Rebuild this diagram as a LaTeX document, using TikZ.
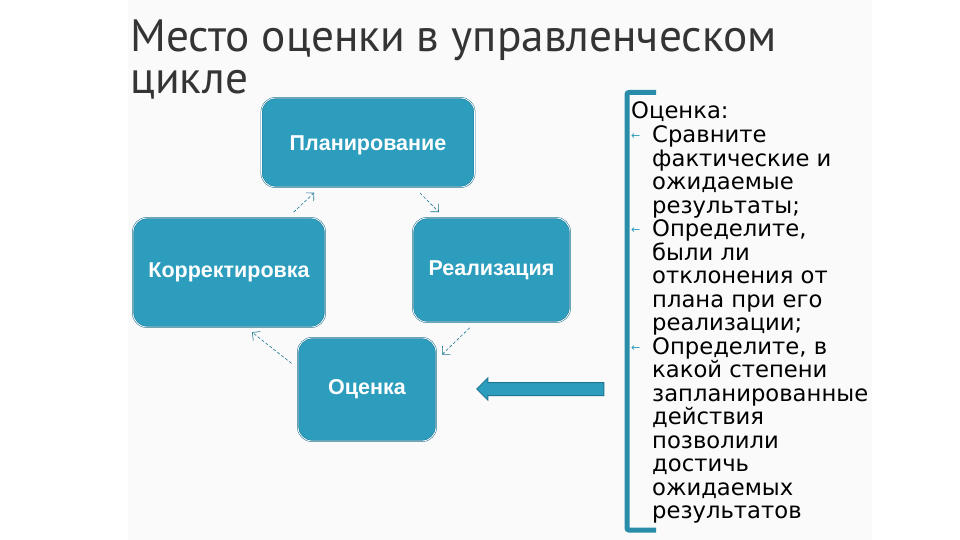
\documentclass[tikz,border=0pt]{standalone}
\usepackage{fontspec}
\setmainfont{DejaVu Sans}
\newfontfamily\boxfont{Liberation Sans}
\newfontfamily\titlefont{PT Sans}
\usepackage{tikz}
\usetikzlibrary{arrows.meta,shapes.arrows}
\definecolor{tealbox}{RGB}{45,157,189}
\definecolor{tealline}{RGB}{30,118,148}
\definecolor{ttl}{RGB}{52,52,52}

\begin{document}
\begin{tikzpicture}[x=1pt,y=-1pt,
  b/.style={draw=tealline,line width=0.5pt,double=white,double distance=0.8pt,
    fill=tealbox,rounded corners=14pt,text=white,
    font=\boxfont\bfseries\fontsize{21.5}{24}\selectfont},
  e/.style={-{Straight Barb[length=2mm]},densely dashed,tealline,line width=0.6pt,
    shorten <=8pt,shorten >=8pt},
  t/.style={inner sep=0pt,align=left,anchor=base west,
    font=\fontsize{22.7}{23.5}\selectfont},
  bul/.style={inner sep=0pt,anchor=base west,text=tealbox,font=\fontsize{11}{11}\selectfont}]
  \useasboundingbox (0,0) rectangle (960,540);
  \fill[gray!4] (128,0) rectangle (872,540);
  % title
  \node[anchor=base west,inner sep=0pt,text=ttl,font=\titlefont\fontsize{45.3}{46}\selectfont]
    (ttl1) at (130,52) {Место оценки в управленческом};
  \node[anchor=base west,inner sep=0pt,text=ttl,font=\titlefont\fontsize{45.3}{46}\selectfont]
    (ttl2) at (130,94) {цикле};
  % cycle
  \node[b,minimum width=213,minimum height=89,text height=21pt] (plan) at (368,142.5) {Планирование};
  \node[b,minimum width=157,minimum height=104] (real) at (491.5,270) {Реализация};
  \node[b,minimum width=192,minimum height=109] (korr) at (229,272.5) {Корректировка};
  \node[b,minimum width=138,minimum height=103] (ots) at (367,389.5) {Оценка};
  \draw[e] (korr.43) -- (plan.223);
  \draw[e] (plan.-44) -- (real.132);
  \draw[e] (real.253) -- (ots.23);
  \draw[e] (ots.163) -- (korr.287);
  % big arrow
  \node[single arrow,shape border rotate=180,fill=tealbox,draw=tealline,line width=1pt,
    minimum height=127,inner sep=6pt,single arrow head extend=4.5pt,
    single arrow head indent=0pt] (fb) at (543.5,389) {};
  % bracket and text
  \draw[tealbox!90!black,line width=5pt,rounded corners=2pt]
    (656,92.5) -- (627,92.5) -- (627,530) -- (656,530);
  \node[t] (hd) at (631,119) {Оценка:};
  \node[t] (i1) at (652,213) {Сравните\\фактические и\\ожидаемые\\результаты;};
  \node[t] (i2) at (652,330.5) {Определите,\\были ли\\отклонения от\\плана при его\\реализации;};
  \node[t] (i3) at (652,518.5) {Определите, в\\какой степени\\запланированные\\действия\\позволили\\достичь\\ожидаемых\\результатов};
  \node[bul] (b1) at (631,139.5) {←};
  \node[bul] (b2) at (631,233.5) {←};
  \node[bul] (b3) at (631,351) {←};
\end{tikzpicture}
\end{document}
